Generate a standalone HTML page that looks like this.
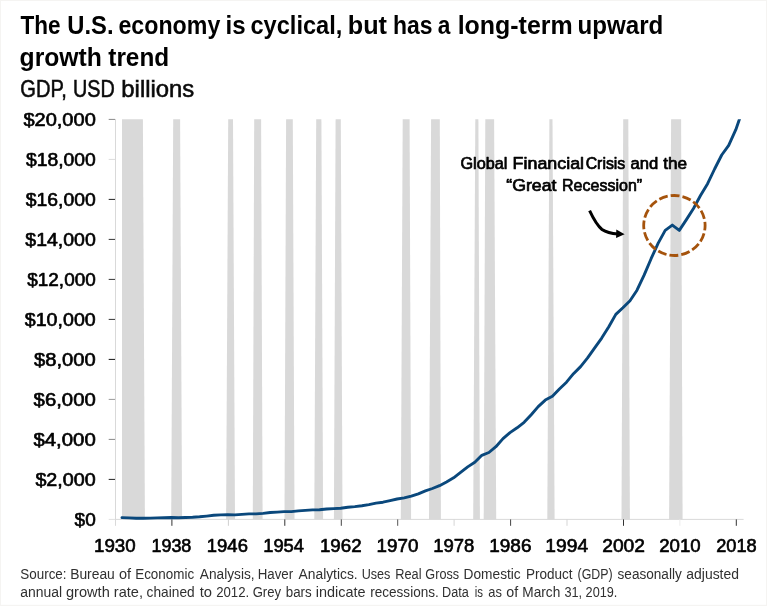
<!DOCTYPE html>
<html lang="en">
<head>
<meta charset="utf-8">
<title>The U.S. economy is cyclical, but has a long-term upward growth trend</title>
<style>
html,body{margin:0;padding:0;background:#fff;}
body{width:767px;height:606px;overflow:hidden;position:relative;font-family:"Liberation Sans",sans-serif;}
svg{position:absolute;left:0;top:0;display:block;will-change:transform;opacity:0.9999;}
text{font-family:"Liberation Sans",sans-serif;white-space:pre;}
.ttl{font-weight:bold;font-size:25.0px;fill:#000;}
.sub{font-size:23.3px;fill:#0a0a0a;stroke:#0a0a0a;stroke-width:0.55px;}
.ax{font-size:17.9px;fill:#000;stroke:#000;stroke-width:0.62px;stroke-linejoin:round;}
.ann{font-size:16.4px;fill:#000;stroke:#000;stroke-width:0.7px;stroke-linejoin:round;}
.src{font-size:14.3px;fill:#303030;}
</style>
</head>
<body>
<svg width="767" height="606" viewBox="0 0 767 606">
<rect x="0" y="0" width="767" height="606" fill="#f5f4f2"/>
<rect x="1" y="1" width="765" height="603.8" fill="#fff"/>

<!-- titles -->
<g class="ttl">
<text transform="translate(20.57 33.90) scale(0.9014 1)">The</text>
<text transform="translate(67.37 33.90) scale(0.9508 1)">U.S.</text>
<text transform="translate(118.47 33.90) scale(0.9280 1)">economy</text>
<text transform="translate(225.51 33.90) scale(0.9633 1)">is</text>
<text transform="translate(250.46 33.90) scale(0.9448 1)">cyclical,</text>
<text transform="translate(347.76 33.90) scale(1.0098 1)">but</text>
<text transform="translate(392.89 33.90) scale(0.9178 1)">has</text>
<text transform="translate(437.82 33.90) scale(0.9089 1)">a</text>
<text transform="translate(457.65 33.90) scale(0.9982 1)">long-term</text>
<text transform="translate(577.49 33.90) scale(0.9663 1)">upward</text>
<text transform="translate(19.61 66.00) scale(0.9875 1)">growth</text>
<text transform="translate(108.30 66.00) scale(0.9742 1)">trend</text>
</g>
<g class="sub">
<text transform="translate(20.26 97.00) scale(0.8635 1)">GDP,</text>
<text transform="translate(73.04 97.00) scale(0.8499 1)">USD</text>
<text transform="translate(121.32 97.00) scale(1.0254 1)">billions</text>
</g>

<!-- recession bars -->
<g fill="#d9d9d9">
<polygon points="122.0,119.2 142.9,119.2 144.9,519.4 122.0,519.4"/>
<polygon points="173.2,119.2 180.1,119.2 182.1,519.4 171.2,519.4"/>
<polygon points="228.2,119.2 233.0,119.2 235.0,519.4 226.1,519.4"/>
<polygon points="254.2,119.2 261.1,119.2 262.6,519.4 252.8,519.4"/>
<polygon points="286.1,119.2 292.8,119.2 294.5,519.4 284.5,519.4"/>
<polygon points="316.2,119.2 321.4,119.2 323.1,519.4 314.3,519.4"/>
<polygon points="335.6,119.2 340.8,119.2 342.5,519.4 333.9,519.4"/>
<polygon points="402.7,119.2 409.6,119.2 411.1,519.4 400.8,519.4"/>
<polygon points="431.1,119.2 439.8,119.2 440.9,519.4 429.0,519.4"/>
<polygon points="475.3,119.2 478.4,119.2 479.9,519.4 473.2,519.4"/>
<polygon points="485.3,119.2 494.1,119.2 496.2,519.4 483.7,519.4"/>
<polygon points="549.4,119.2 552.5,119.2 554.6,519.4 547.3,519.4"/>
<polygon points="623.2,119.2 628.3,119.2 629.9,519.4 621.5,519.4"/>
<polygon points="671.1,119.2 681.1,119.2 682.6,519.4 669.1,519.4"/>
</g>

<!-- axes -->
<g stroke-width="1">
<line x1="115.5" x2="115.5" y1="119" y2="525.8" stroke="#d9d9d9"/>
<line x1="115" x2="743.6" y1="519.4" y2="519.4" stroke="#d9d9d9"/>
<line x1="108.7" x2="115" y1="519.4" y2="519.4" stroke="#e0e0e0"/>
<line x1="108.7" x2="115" y1="479.4" y2="479.4" stroke="#222"/>
<line x1="108.7" x2="115" y1="439.4" y2="439.4" stroke="#888"/>
<line x1="108.7" x2="115" y1="399.4" y2="399.4" stroke="#9a9a9a"/>
<line x1="108.7" x2="115" y1="359.4" y2="359.4" stroke="#111"/>
<line x1="108.7" x2="115" y1="319.4" y2="319.4" stroke="#333"/>
<line x1="108.7" x2="115" y1="279.4" y2="279.4" stroke="#333"/>
<line x1="108.7" x2="115" y1="239.4" y2="239.4" stroke="#333"/>
<line x1="108.7" x2="115" y1="199.4" y2="199.4" stroke="#222"/>
<line x1="108.7" x2="115" y1="159.4" y2="159.4" stroke="#dcdcdc"/>
<line x1="108.7" x2="115" y1="119.4" y2="119.4" stroke="#8a8a8a"/>
<line x1="171.9" x2="171.9" y1="519.4" y2="525.8" stroke="#333"/>
<line x1="228.4" x2="228.4" y1="519.4" y2="525.8" stroke="#cfcfcf"/>
<line x1="284.8" x2="284.8" y1="519.4" y2="525.8" stroke="#333"/>
<line x1="341.3" x2="341.3" y1="519.4" y2="525.8" stroke="#444"/>
<line x1="397.7" x2="397.7" y1="519.4" y2="525.8" stroke="#555"/>
<line x1="454.1" x2="454.1" y1="519.4" y2="525.8" stroke="#d5d5d5"/>
<line x1="510.6" x2="510.6" y1="519.4" y2="525.8" stroke="#444"/>
<line x1="567.0" x2="567.0" y1="519.4" y2="525.8" stroke="#d5d5d5"/>
<line x1="623.5" x2="623.5" y1="519.4" y2="525.8" stroke="#333"/>
<line x1="679.9" x2="679.9" y1="519.4" y2="525.8" stroke="#ececec"/>
<line x1="736.3" x2="736.3" y1="519.4" y2="525.8" stroke="#333"/>
</g>
<g class="ax">
<text transform="translate(74.61 525.60) scale(1.0621 1)">$0</text>
<text transform="translate(35.40 485.60) scale(1.1025 1)">$2,000</text>
<text transform="translate(33.40 445.60) scale(1.1396 1)">$4,000</text>
<text transform="translate(33.60 405.60) scale(1.1359 1)">$6,000</text>
<text transform="translate(34.10 365.60) scale(1.1266 1)">$8,000</text>
<text transform="translate(24.80 325.60) scale(1.0969 1)">$10,000</text>
<text transform="translate(27.31 285.60) scale(1.0578 1)">$12,000</text>
<text transform="translate(25.31 245.60) scale(1.0891 1)">$14,000</text>
<text transform="translate(25.81 205.60) scale(1.0813 1)">$16,000</text>
<text transform="translate(25.91 165.60) scale(1.0797 1)">$18,000</text>
<text transform="translate(23.40 125.60) scale(1.1189 1)">$20,000</text>
<text transform="translate(94.00 552.00) scale(1.0458 1)">1930</text>
<text transform="translate(151.45 552.00) scale(1.0032 1)">1938</text>
<text transform="translate(206.81 552.00) scale(1.0324 1)">1946</text>
<text transform="translate(263.22 552.00) scale(1.0251 1)">1954</text>
<text transform="translate(319.89 552.00) scale(1.0467 1)">1962</text>
<text transform="translate(376.49 552.00) scale(1.0511 1)">1970</text>
<text transform="translate(433.21 552.00) scale(1.0324 1)">1978</text>
<text transform="translate(489.28 552.00) scale(1.0589 1)">1986</text>
<text transform="translate(545.36 552.00) scale(1.0752 1)">1994</text>
<text transform="translate(602.24 552.00) scale(1.0739 1)">2002</text>
<text transform="translate(659.17 552.00) scale(1.0414 1)">2010</text>
<text transform="translate(716.19 552.00) scale(1.0177 1)">2018</text>
</g>

<!-- GDP line -->
<clipPath id="plotclip"><rect x="110" y="119.2" width="640" height="410"/></clipPath>
<polyline clip-path="url(#plotclip)" fill="none" stroke="#0a487c" stroke-width="2.9" stroke-linejoin="round" stroke-linecap="round" points="122.0,517.6 129.1,517.9 136.1,518.2 143.2,518.3 150.2,518.1 157.3,517.9 164.3,517.7 171.4,517.5 178.4,517.7 185.5,517.5 192.6,517.3 199.6,516.8 206.7,516.1 213.7,515.3 220.8,514.9 227.8,514.8 234.9,514.9 241.9,514.4 249.0,513.9 256.0,513.9 263.1,513.4 270.2,512.5 277.2,512.1 284.3,511.6 291.3,511.6 298.4,510.9 305.4,510.4 312.5,509.9 319.5,509.8 326.6,509.0 333.6,508.6 340.7,508.2 347.8,507.3 354.8,506.6 361.9,505.7 368.9,504.6 376.0,503.1 383.0,502.2 390.1,500.6 397.1,499.0 404.2,497.9 411.3,496.1 418.3,493.8 425.4,490.9 432.4,488.5 439.5,485.7 446.5,481.9 453.6,477.8 460.6,472.4 467.7,466.9 474.8,462.3 481.8,455.3 488.9,452.5 495.9,446.7 503.0,438.6 510.0,432.6 517.1,427.8 524.1,422.3 531.2,414.7 538.2,406.6 545.3,400.1 552.4,396.2 559.4,389.0 566.5,382.2 573.5,373.7 580.6,366.6 587.6,357.9 594.7,347.8 601.7,338.1 608.8,326.8 615.8,314.4 622.9,307.8 630.0,300.7 637.0,290.2 644.1,275.1 651.1,258.7 658.2,243.1 665.2,230.4 672.3,225.1 679.3,230.4 686.4,219.6 693.5,208.5 700.5,195.5 707.6,183.7 714.6,169.0 721.7,155.0 728.7,145.3 735.8,129.7 742.8,109.5"/>

<!-- annotation -->
<g class="ann">
<text transform="translate(460.44 168.70) scale(0.9897 1)">Global</text>
<text transform="translate(512.57 168.70) scale(1.0905 1)">Financial</text>
<text transform="translate(585.66 168.70) scale(0.9670 1)">Crisis</text>
<text transform="translate(630.54 168.70) scale(1.0146 1)">and</text>
<text transform="translate(663.29 168.70) scale(1.0479 1)">the</text>
<text transform="translate(506.29 190.60) scale(1.0806 1)">“Great</text>
<text transform="translate(562.03 190.60) scale(0.9774 1)">Recession”</text>
</g>
<ellipse cx="674.4" cy="225.5" rx="30.7" ry="30.0" fill="none" stroke="#a5530c" stroke-width="2.8" stroke-dasharray="8.9 3.02" stroke-dashoffset="4.0"/>
<path d="M589.6,210.7 C593.5,219 597,225.5 602,229.5 C606.5,232.6 611.5,233.6 618,234" fill="none" stroke="#000" stroke-width="3.0"/>
<polygon points="624.6,234.2 616.3,229.6 616.1,237.9" fill="#000"/>

<!-- source -->
<g class="src">
<text transform="translate(20.30 578.80) scale(0.9401 1)">Source:</text>
<text transform="translate(70.16 578.80) scale(0.9688 1)">Bureau</text>
<text transform="translate(118.88 578.80) scale(1.0148 1)">of</text>
<text transform="translate(135.19 578.80) scale(0.9395 1)">Economic</text>
<text transform="translate(199.87 578.80) scale(0.9575 1)">Analysis,</text>
<text transform="translate(257.70 578.80) scale(0.9306 1)">Haver</text>
<text transform="translate(298.57 578.80) scale(0.9669 1)">Analytics.</text>
<text transform="translate(361.72 578.80) scale(0.8818 1)">Uses</text>
<text transform="translate(395.24 578.80) scale(0.8945 1)">Real</text>
<text transform="translate(425.37 578.80) scale(0.8855 1)">Gross</text>
<text transform="translate(463.57 578.80) scale(0.9600 1)">Domestic</text>
<text transform="translate(525.88 578.80) scale(0.9463 1)">Product</text>
<text transform="translate(577.53 578.80) scale(0.8670 1)">(GDP)</text>
<text transform="translate(617.53 578.80) scale(0.9518 1)">seasonally</text>
<text transform="translate(686.31 578.80) scale(0.9743 1)">adjusted</text>
<text transform="translate(20.31 597.40) scale(0.9743 1)">annual</text>
<text transform="translate(65.98 597.40) scale(1.0218 1)">growth</text>
<text transform="translate(113.85 597.40) scale(1.0196 1)">rate,</text>
<text transform="translate(146.62 597.40) scale(0.9592 1)">chained</text>
<text transform="translate(199.68 597.40) scale(1.0343 1)">to</text>
<text transform="translate(216.14 597.40) scale(0.9235 1)">2012.</text>
<text transform="translate(252.65 597.40) scale(0.9159 1)">Grey</text>
<text transform="translate(285.73 597.40) scale(0.9324 1)">bars</text>
<text transform="translate(315.72 597.40) scale(1.0107 1)">indicate</text>
<text transform="translate(370.22 597.40) scale(0.9486 1)">recessions.</text>
<text transform="translate(442.06 597.40) scale(0.8853 1)">Data</text>
<text transform="translate(474.83 597.40) scale(0.8008 1)">is</text>
<text transform="translate(488.35 597.40) scale(0.9014 1)">as</text>
<text transform="translate(506.29 597.40) scale(0.9971 1)">of</text>
<text transform="translate(522.27 597.40) scale(0.9563 1)">March</text>
<text transform="translate(564.52 597.40) scale(0.8862 1)">31,</text>
<text transform="translate(585.57 597.40) scale(0.8880 1)">2019.</text>
</g>
</svg>
</body>
</html>
